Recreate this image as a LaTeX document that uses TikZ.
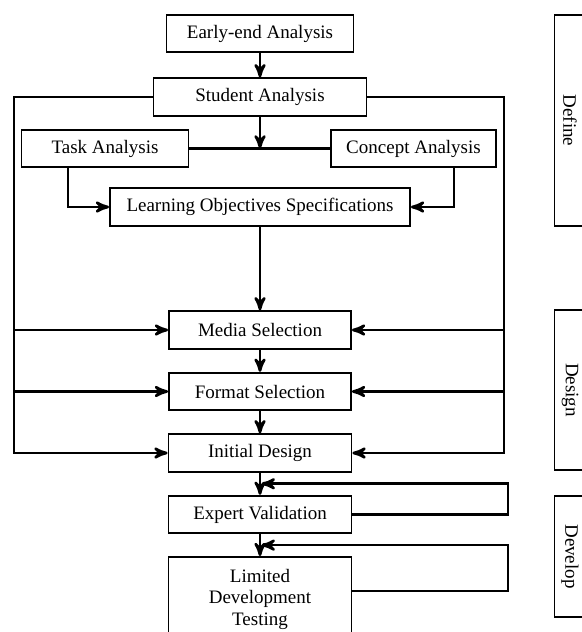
\documentclass[tikz,border=0pt]{standalone}
\usepackage{fontspec}
\setmainfont{Liberation Serif}
\usetikzlibrary{arrows}

\begin{document}
\begin{tikzpicture}[-,>=stealth',auto,node distance=30.75pt,line width=1.3pt,
  main node/.style={rectangle,draw,line width=0.9pt,minimum height=18.75pt,inner sep=2pt,font=\fontsize{9.5}{10.75}\selectfont},
  phase node/.style={rectangle,draw,line width=0.6pt,rotate=-90,minimum height=15.5pt,inner sep=0pt,font=\fontsize{9.5}{11}\selectfont}]

  \useasboundingbox (0,0) rectangle (291pt,-316pt);

  \node[main node,minimum width=93.5pt] (EA) at (130pt,-16.75pt) {Early-end Analysis};
  \node[main node,minimum width=106.5pt] (SA) [below of=EA,node distance=31.75pt] {Student Analysis};
  \node[main node,minimum width=83.5pt] (TA) [below of=SA,node distance=25.75pt,xshift=-77.5pt] {Task Analysis};
  \node[main node,minimum width=82.5pt] (CA) [below of=SA,node distance=25.75pt,xshift=76.75pt] {Concept Analysis};
  \node[main node,minimum width=150pt] (LO) [below of=SA,node distance=55pt] {Learning Objectives Specifications};
  \node[main node,minimum width=91pt] (MS) [below of=LO,node distance=61.5pt] {Media Selection};
  \node[main node,minimum width=91pt] (FS) [below of=MS] {Format Selection};
  \node[main node,minimum width=91.5pt] (ID) [below of=FS] {Initial Design};
  \node[main node,minimum width=91.5pt] (EV) [below of=ID] {Expert Validation};
  \node[main node,minimum width=91.5pt,minimum height=42pt,align=center] (LT) [below of=EV,node distance=42.25pt] {Limited\\Development\\Testing};

  \node[phase node,minimum width=105.5pt] (P1) at (285pt,-60.25pt) {Define};
  \node[phase node,minimum width=80pt] (P2) at (285pt,-195pt) {Design};
  \node[phase node,minimum width=60.5pt] (P3) at (285pt,-278.25pt) {Develop};

  \coordinate (L) at (7pt,0);
  \coordinate (R) at (252pt,0);

  \draw[->] (EA) -- (SA);
  \draw[->] (SA) -- (SA |- TA.east);
  \draw (TA) -- (CA);
  \draw[->] ([xshift=23.75pt]TA.south west) |- (LO.west);
  \draw[->] ([xshift=-21.5pt]CA.south east) |- (LO.east);
  \draw[->] (LO) -- (MS);
  \draw[->] (MS) -- (FS);
  \draw[->] (FS) -- (ID);
  \draw[->] (ID) -- coordinate[midway] (j1) (EV);
  \draw[->] (EV) -- coordinate[midway] (j2) (LT);

  % loop round the design steps
  \draw[->] (SA.west) -| (L |- ID.west) -- (ID.west);
  \draw[->] (SA.east) -| (R |- ID.east) -- (ID.east);
  \foreach \n in {MS,FS} {
    \draw[->] (L |- \n.west) -- (\n.west);
    \draw[->] (R |- \n.east) -- (\n.east);
  }

  % revisions
  \draw[->] (EV.east) -- ++(77.75pt,0) |- ([xshift=0.8pt]j1);
  \draw[->] ([yshift=4pt]LT.east) -- ++(77.75pt,0) |- ([xshift=0.8pt]j2);
\end{tikzpicture}
\end{document}
